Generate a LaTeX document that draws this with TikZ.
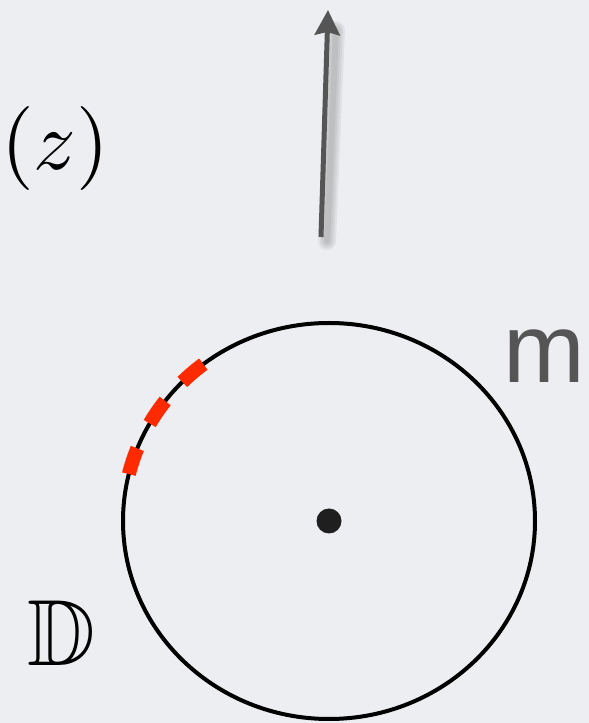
\documentclass[tikz,border=0pt]{standalone}
\usepackage{amsmath,amssymb}
\usepackage{fontspec}
\usepackage{tikz}
\usetikzlibrary{arrows.meta, positioning, calc}
\newfontfamily\labelsans{Liberation Sans}
\definecolor{slidebg}{RGB}{236,238,241}
\definecolor{arrowgray}{RGB}{85,85,85}
\definecolor{cutred}{RGB}{255,42,0}
\definecolor{labelgray}{RGB}{85,85,85}

\begin{document}
\begin{tikzpicture}[
  x=1pt, y=1pt,
  disk/.style     = {draw=black, line width=4pt},
  centerdot/.style= {circle, fill=black!88, minimum size=25pt, inner sep=0pt},
  cutmark/.style  = {draw=cutred, line width=14pt},
  flowarrow/.style= {-{Stealth[length=25pt, width=25pt, inset=3pt]}, line width=5pt, color=arrowgray},
  arrowshade/.style={line width=#1, color=black, opacity=0.05, line cap=round},
  mathlabel/.style= {inner sep=0pt, scale=#1},
  sanslabel/.style= {inner sep=0pt, text=labelgray, font=\labelsans\fontsize{98}{100}\selectfont},
]

%% --- Canvas ---
\fill[slidebg] (0,0) rectangle (589,723);
\useasboundingbox (0,0) rectangle (589,723);

%% --- Disk ---
\coordinate (c) at (329,202);
\draw[disk] (c) ellipse [x radius=206, y radius=198];
\node[centerdot] (origin) at (c) {};

%% --- Red marks on the boundary ---
\foreach \a in {127.6, 142.7, 158.5}
  \draw[cutmark] ($(c)+(\a:206 and 198)$)
    arc[start angle=\a, delta angle=7.8, x radius=206, y radius=198];

%% --- Upward arrow ---
\coordinate (tail) at (321,486);
\coordinate (tip)  at (328,713);
\foreach \w in {18,14,10,6}
  \draw[arrowshade=\w pt] ($(tail)+(6,-4)$) -- ($(tip)+(8,-20)$);
\draw[flowarrow] (tail) -- (tip);

%% --- Labels ---
\node[mathlabel=8.4, anchor=base east] (rho) at (111,553) {$\rho(z)$};
\node[mathlabel=9.4, anchor=base west] (dd) at (26,58) {$\mathbb{D}$};
\node[sanslabel, anchor=base west] (m) at (503,340) {m};

\end{tikzpicture}
\end{document}
